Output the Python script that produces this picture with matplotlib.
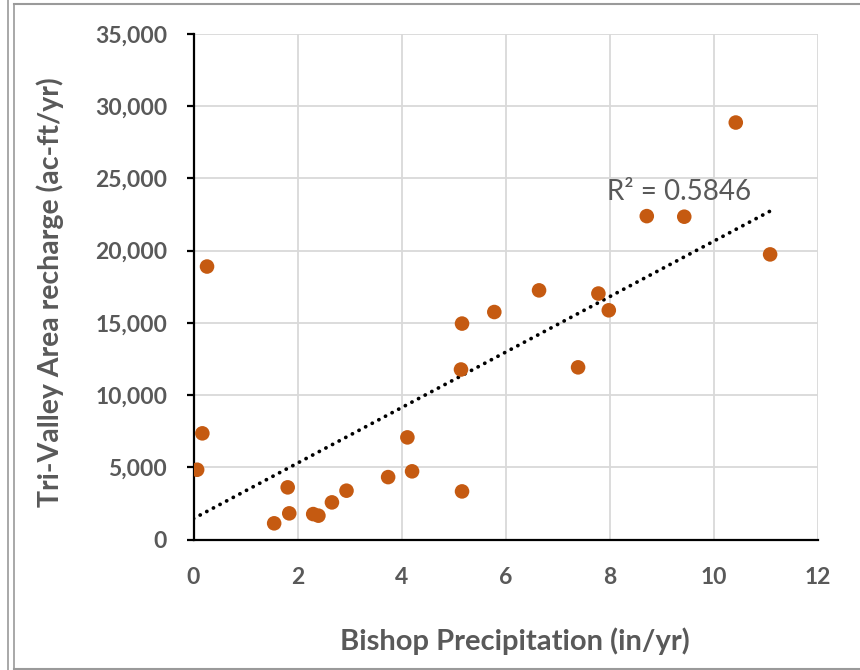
import numpy as np
import matplotlib
matplotlib.use("Agg")
import matplotlib.pyplot as plt
from matplotlib.lines import Line2D
from matplotlib.ticker import FuncFormatter

# Bishop precipitation (in/yr) vs Tri-Valley recharge (ac-ft/yr)
precip = [0.07, 0.17, 0.26, 1.55, 1.81, 1.84, 2.30, 2.40, 2.66, 2.94, 3.74, 4.11, 4.20,
          5.16, 5.14, 5.16, 5.78, 6.64, 7.39, 7.78, 7.98, 8.71, 9.43, 10.42, 11.08]
recharge = [4830, 7350, 18900, 1120, 3610, 1810, 1760, 1650, 2570, 3380, 4320, 7070, 4720,
            3330, 11770, 14950, 15750, 17250, 11920, 17030, 15870, 22390, 22350, 28870, 19740]
r2_label = "R² = 0.5846"

grey = "#595959"
orange = "#C55A11"
plt.rcParams['font.family'] = ['Lato', 'DejaVu Sans']

fig = plt.figure(figsize=(8.6, 6.7), dpi=100)
ax = fig.add_axes([193.5/860, 1-539.5/670, (818-193.5)/860, (539.5-34)/670])

x = np.array(precip)
y = np.array(recharge)
slope, icpt = np.polyfit(x, y, 1)
xt = np.array([0, x.max()])
ax.plot(xt, slope*xt + icpt, color='black', lw=2.7, linestyle=(0, (0.05, 1.95)),
        dash_capstyle='round', zorder=3)
ax.scatter(x, y, s=110, color=orange, edgecolors='none', zorder=4)

ax.text(7.95, 24050, r2_label, fontsize=20, color=grey, ha='left', va='center')

ax.set_xlim(0, 12)
ax.set_ylim(0, 35000)
ax.set_xticks(range(0, 13, 2))
ax.set_yticks(range(0, 35001, 5000))
ax.yaxis.set_major_formatter(FuncFormatter(lambda v, p: f"{int(v):,}"))
ax.grid(True, color='#D9D9D9', lw=1.3)
ax.set_axisbelow(True)
for s in ['top', 'right']:
    ax.spines[s].set_visible(False)
for s in ['left', 'bottom']:
    ax.spines[s].set_linewidth(1.6)
    ax.spines[s].set_color('black')
ax.tick_params(axis='y', length=5, width=1.6, color='black', pad=14,
               labelsize=16.5, labelcolor=grey)
ax.tick_params(axis='x', length=0, pad=20, labelsize=16.5, labelcolor=grey)
for lab in ax.get_xticklabels() + ax.get_yticklabels():
    lab.set_fontweight('bold')

fig.text(515/860, 1-641/670, "Bishop Precipitation (in/yr)", fontsize=21, fontweight='bold',
         color=grey, ha='center', va='center')
fig.text(50/860, 1-292/670, "Tri-Valley Area recharge (ac-ft/yr)", fontsize=20.5,
         fontweight='bold', color=grey, ha='center', va='center', rotation=90)

# outer frame lines
bc = '#9A9A9A'
fig.add_artist(Line2D([8/860, 8/860], [0, 1], color=bc, lw=1.2))
fig.add_artist(Line2D([13.5/860, 13.5/860], [1/670, 1-4/670], color=bc, lw=1.2))
fig.add_artist(Line2D([13.5/860, 1], [1-4/670, 1-4/670], color=bc, lw=1.5))
fig.add_artist(Line2D([13.5/860, 1], [1/670, 1/670], color=bc, lw=1.5))

fig.savefig("out.png", dpi=100)
